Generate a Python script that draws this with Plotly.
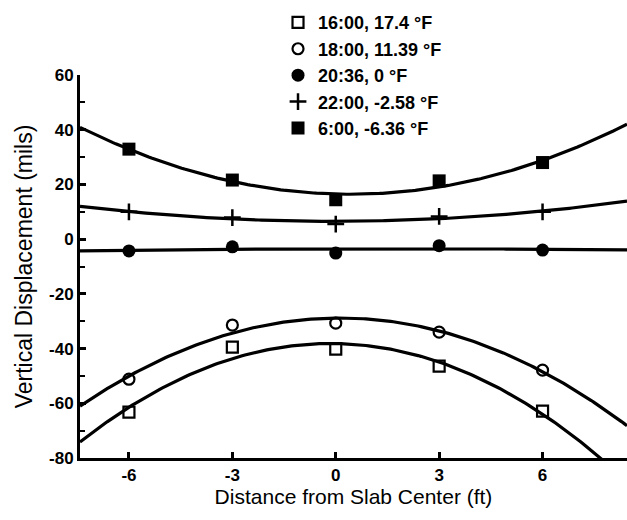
import numpy as np
import plotly.graph_objects as go

x_pos = [-6, -3, 0, 3, 6]
series_names = ["16:00, 17.4 °F", "18:00, 11.39 °F", "20:36, 0 °F", "22:00, -2.58 °F", "6:00, -6.36 °F"]
v_1600 = [-63.2, -39.5, -40.2, -46.4, -62.9]
v_1800 = [-51.2, -31.4, -30.7, -34.0, -47.9]
v_2036 = [-4.3, -2.8, -5.1, -2.4, -4.0]
v_2200 = [10.0, 7.9, 5.5, 8.3, 10.0]
v_0600 = [32.9, 21.6, 14.4, 21.3, 28.0]
x_ticks = [-6, -3, 0, 3, 6]
y_ticks = [-80, -60, -40, -20, 0, 20, 40, 60]

FONT = "Liberation Sans, Arial, sans-serif"
styles = [
    dict(symbol="square-open", size=11, line=dict(width=2.2, color="black")),
    dict(symbol="circle-open", size=11, line=dict(width=2.2, color="black")),
    dict(symbol="circle", size=13, line=dict(width=0)),
    dict(symbol="cross-thin", size=12, line=dict(width=2.5, color="black")),
    dict(symbol="square", size=13, line=dict(width=0)),
]
values = [v_1600, v_1800, v_2036, v_2200, v_0600]

XMIN, XMAX = -7.42, 8.45
fig = go.Figure()
xs = np.linspace(XMIN, XMAX, 200)
for vals in values:
    coef = np.polyfit(x_pos, vals, 2)
    fig.add_trace(go.Scatter(x=xs, y=np.polyval(coef, xs), mode="lines",
                             line=dict(color="black", width=3.2), showlegend=False,
                             hoverinfo="skip"))
for name, vals, st in zip(series_names, values, styles):
    fig.add_trace(go.Scatter(x=x_pos, y=vals, mode="markers", name=name,
                             marker=dict(color="black", **st)))

fig.update_layout(
    width=627, height=520,
    margin=dict(l=80, r=0, t=75, b=62),
    plot_bgcolor="white", paper_bgcolor="white",
    font=dict(family=FONT, color="black"),
    legend=dict(x=0.362, y=1.185, xanchor="left", yanchor="top",
                font=dict(family=FONT, size=18, color="black", weight="bold"),
                bgcolor="rgba(0,0,0,0)", tracegroupgap=0, itemwidth=30),
)
fig.update_xaxes(range=[XMIN, XMAX], tickvals=x_ticks, ticktext=[str(t) for t in x_ticks],
                 showgrid=False, zeroline=False, showline=True, linewidth=3, linecolor="black",
                 ticks="inside", ticklen=6, tickwidth=3, tickcolor="black",
                 tickfont=dict(family=FONT, size=17, weight="bold"),
                 title=dict(text="Distance from Slab Center (ft)", font=dict(family=FONT, size=21), standoff=5))
fig.update_yaxes(range=[-80, 60], tickvals=y_ticks, ticktext=[str(t) for t in y_ticks],
                 showgrid=False, zeroline=False, showline=True, linewidth=3, linecolor="black",
                 ticks="inside", ticklen=6, tickwidth=3, tickcolor="black",
                 minor=dict(dtick=10, ticks="inside", ticklen=5, tickwidth=2, tickcolor="black"),
                 tickfont=dict(family=FONT, size=17, weight="bold"),
                 title=dict(text="Vertical Displacement (mils)", font=dict(family=FONT, size=23), standoff=10))
fig.write_html("out.html")
